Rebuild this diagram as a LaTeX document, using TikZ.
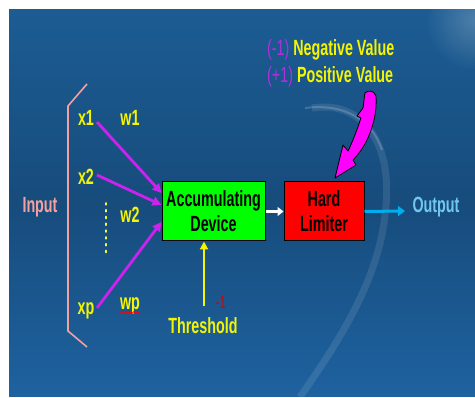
\documentclass[tikz,border=0pt]{standalone}
\usepackage{fontspec}
\setmainfont{Liberation Sans}[FakeStretch=0.65]
\usetikzlibrary{arrows.meta,decorations.pathmorphing}
\definecolor{bgtop}{HTML}{1C5C93}
\definecolor{bgmid}{HTML}{174C7C}
\definecolor{bgbot}{HTML}{1E62A0}
\definecolor{lblyel}{HTML}{F5F500}
\definecolor{wire}{HTML}{CC22EE}
\definecolor{pinkish}{HTML}{F2A0A0}
\definecolor{outblue}{HTML}{70C8F0}
\definecolor{arrmag}{HTML}{FF00FF}
\definecolor{negpurple}{HTML}{B030E0}
\tikzset{
  lbl/.style={font=\fontsize{22}{25}\selectfont\bfseries, inner sep=0pt},
  ylbl/.style={lbl, text=lblyel},
  boxnode/.style={draw=black, line width=1pt, minimum width=103pt, minimum height=59pt, align=center, inner sep=0pt, lbl, text=black},
  wirearr/.style={draw=wire, line width=2.8pt, -{Triangle[length=9pt,width=9pt]}},
}
\begin{document}
\begin{tikzpicture}[x=1pt,y=-1pt]
\useasboundingbox (0,0) rectangle (475,398);
\fill[white] (0,0) rectangle (475,398);
% background
\shade[top color=bgtop, bottom color=bgbot, middle color=bgmid] (9,10) rectangle (475,397);
\begin{scope}
\clip (9,10) rectangle (475,397);
\shade[inner color=white, outer color=bgtop, opacity=0.22] (475,20) circle (50);
% faint arc
\draw[white, opacity=0.10, line width=7pt] (312,108) .. controls (360,100) and (395,140) .. (385,215) .. controls (378,280) and (340,340) .. (300,397);
\draw[white, opacity=0.18, line width=2pt] (305,108) .. controls (345,103) and (372,120) .. (382,150);
\end{scope}
% bracket
\draw[pinkish, line width=1.6pt] (87,84) -- (68,106) -- (68,331) -- (87,347);
\node[lbl, text=pinkish] (input) at (40,207) {Input};
% inputs
\node[ylbl] (x1) at (86,118) {x1};
\node[ylbl] (x2) at (86,177) {x2};
\node[ylbl] (xp) at (86,311) {xp};
\node[ylbl] (w1) at (130,118) {w1};
\node[ylbl] (w2) at (130,215) {w2};
\node[ylbl] (wp) at (130,306) {wp};
\draw[red, line width=0.6pt, decorate, decoration={zigzag, amplitude=0.8pt, segment length=2.2pt}] ([yshift=2pt]wp.south west) -- ([yshift=2pt]wp.south east);
\draw[lblyel!70!white, line width=1.8pt, dash pattern=on 1.8pt off 5pt, line cap=round] (106,203) -- (106,257);
% boxes
\node[boxnode, fill=green] (acc) at (213.5,211.5) {Accumulating\\Device};
\node[boxnode, fill=red, minimum width=80pt] (hard) at (324,211.5) {Hard\\Limiter};
% wires
\coordinate (s1) at (97,122);
\coordinate (s2) at (97,175);
\coordinate (sp) at (97,308);
\draw[wirearr] (s1) -- (acc.west |- 0,193);
\draw[wirearr] (s2) -- (acc.west |- 0,205);
\draw[wirearr] (sp) -- (acc.west |- 0,222);
% threshold
\node[ylbl] (thr) at (203,326) {Threshold};
\node[font=\fontsize{18}{18}\selectfont, text=red!85!black, inner sep=0pt] (m1) at (221,302) {-1};
\coordinate (tstart) at (204,306);
\draw[lblyel, line width=2.5pt, -{Triangle[length=8pt,width=8pt]}] (tstart) -- (acc.south -| tstart);
% connections
\draw[white, line width=3pt, -{Triangle[length=6pt,width=9pt]}] (acc.east) -- (hard.west);
\coordinate (outend) at (405,211);
\draw[cyan, line width=3pt, -{Triangle[length=7pt,width=10pt]}] (hard.east) -- (outend);
\node[lbl, text=outblue] (out) at (436,207) {Output};
% top labels
\node[lbl, anchor=west] (neg) at (267,50) {\textcolor{negpurple}{\mdseries(-1)} \textcolor{lblyel}{Negative Value}};
\node[lbl, anchor=west] (pos) at (267,77) {\textcolor{negpurple}{\mdseries(+1)} \textcolor{lblyel}{Positive Value}};
% big curved arrow
\draw[black, line width=0.8pt, fill=arrmag, line join=round]
  (365,93) .. controls (368,90) and (374,90) .. (376,96)
  .. controls (377,110) and (374,125) .. (367,140)
  .. controls (363,148) and (358,155) .. (353,160)
  -- (356,165) -- (335,178) -- (343,145) -- (348,151)
  .. controls (352,143) and (357,130) .. (361,118)
  -- (357,116) -- (363,108)
  .. controls (364,103) and (364,97) .. (365,93) -- cycle;
\end{tikzpicture}
\end{document}
